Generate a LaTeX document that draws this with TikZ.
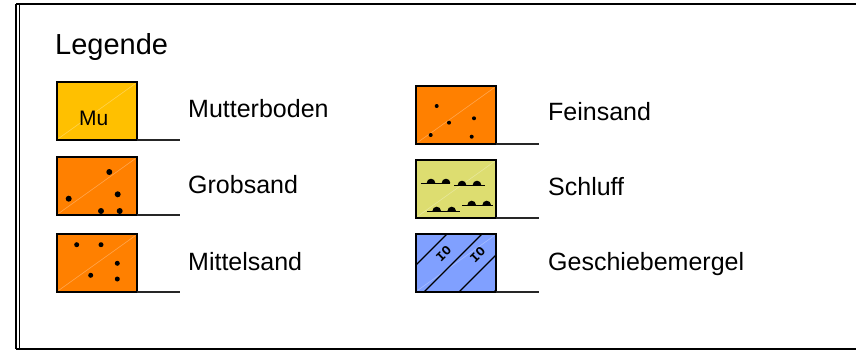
\documentclass[tikz,border=0pt]{standalone}
\usepackage{fontspec}
\setmainfont{Liberation Sans}
\setmonofont{Liberation Mono}
\begin{document}
\begin{tikzpicture}[x=1pt,y=-1pt]
\useasboundingbox (0,0) rectangle (856,351);
\definecolor{mucol}{RGB}{255,192,0}
\definecolor{sandcol}{RGB}{255,128,0}
\definecolor{schluffcol}{RGB}{221,221,112}
\definecolor{mergelcol}{RGB}{128,160,255}
\tikzset{
  legbox/.style={draw=black, line width=1.6pt, minimum width=80pt, minimum height=58pt, inner sep=0pt, outer sep=0pt, anchor=north west},
  lbl/.style={anchor=base west, inner sep=0pt, font=\fontsize{25}{30}\selectfont},
  leader/.style={line width=1.1pt, black!85},
  sheen/.style={white, opacity=0.3, line width=0.6pt},
  grain/.style={fill=black},
  frameline/.style={line width=2pt, black},
  iotext/.style={rotate=45, inner sep=0pt, font=\ttfamily\bfseries\fontsize{13}{13}\selectfont}
}
% frame
\draw[frameline] (16,4) -- (860,4);
\draw[frameline] (16,349) -- (860,349);
\draw[frameline] (16,4) -- (16,349);
\draw[line width=1pt] (19.5,5) -- (19.5,348);

\node[anchor=base west, inner sep=0pt, font=\fontsize{29}{34}\selectfont] (title) at (55,54) {Legende};

% boxes left column
\node[legbox, fill=mucol] (mu) at (57,82) {};
\node[legbox, fill=sandcol] (grob) at (57,157) {};
\node[legbox, fill=sandcol] (mittel) at (57,234) {};
% boxes right column
\node[legbox, fill=sandcol] (fein) at (416,86) {};
\node[legbox, fill=schluffcol] (schluff) at (416,160) {};
\node[legbox, fill=mergelcol] (mergel) at (416,234) {};

\foreach \b in {mu,grob,mittel,fein,schluff,mergel}
  \draw[sheen] ([shift={(1.5,-1.5)}]\b.south west) -- ([shift={(-1.5,1.5)}]\b.north east);

\node[anchor=base west, inner sep=0pt, font=\fontsize{21}{25}\selectfont] (mutext) at (79,125) {Mu};

% Grobsand grains
\foreach \p in {(109.3,172),(68.7,198.7),(117.7,194.3),(101,211),(119.7,211)}
  \fill[grain] \p circle (3pt);
% Mittelsand grains
\foreach \p in {(76.7,244.7),(101,244.7),(117.3,263.3),(90.7,275.3),(117.3,279)}
  \fill[grain] \p circle (2.5pt);
% Feinsand grains
\foreach \p in {(436.7,106),(474,118.3),(449,122.7),(430.7,135),(471.7,136.7)}
  \fill[grain] \p circle (2pt);

% Schluff symbols
\foreach \xa/\xb/\ya/\ba/\bb in {420.7/450/183/431/446, 454/485/185/462/477, 427/460/211/436.7/451.7, 462/493/205/471.7/486.7}{
  \draw[line width=1pt] (\xa,\ya) -- (\xb,\ya);
  \fill (\ba,\ya) ++(-4.3,0) arc (180:360:4.3) -- cycle;
  \fill (\bb,\ya) ++(-4.3,0) arc (180:360:4.3) -- cycle;
}

% Geschiebemergel hatching
\begin{scope}
  \clip (416,234) rectangle (496,292);
  \foreach \c in {681,716,751,786}
    \draw[line width=1.1pt] ({\c-292},292) -- ({\c-234},234);
\end{scope}
\draw[line width=1.6pt] (mergel.north west) rectangle (mergel.south east);
\node[iotext] (io1) at (443.5,253.5) {IO};
\node[iotext] (io2) at (477.5,254.5) {IO};

% leader lines
\coordinate (mu-end) at (180,140);
\coordinate (grob-end) at (180,214);
\coordinate (mittel-end) at (180,291);
\coordinate (fein-end) at (539,143);
\coordinate (schluff-end) at (539,217);
\coordinate (mergel-end) at (539,292);
\foreach \b in {mu,grob,mittel,fein,schluff,mergel}
  \draw[leader] (\b.south east) -- (\b.south east -| \b-end);

% labels
\node[lbl] (l1) at (188,117) {Mutterboden};
\node[lbl] (l2) at (188,193) {Grobsand};
\node[lbl] (l3) at (188,270) {Mittelsand};
\node[lbl] (l4) at (548,120) {Feinsand};
\node[lbl] (l5) at (548,195) {Schluff};
\node[lbl] (l6) at (548,270) {Geschiebemergel};
\end{tikzpicture}
\end{document}
